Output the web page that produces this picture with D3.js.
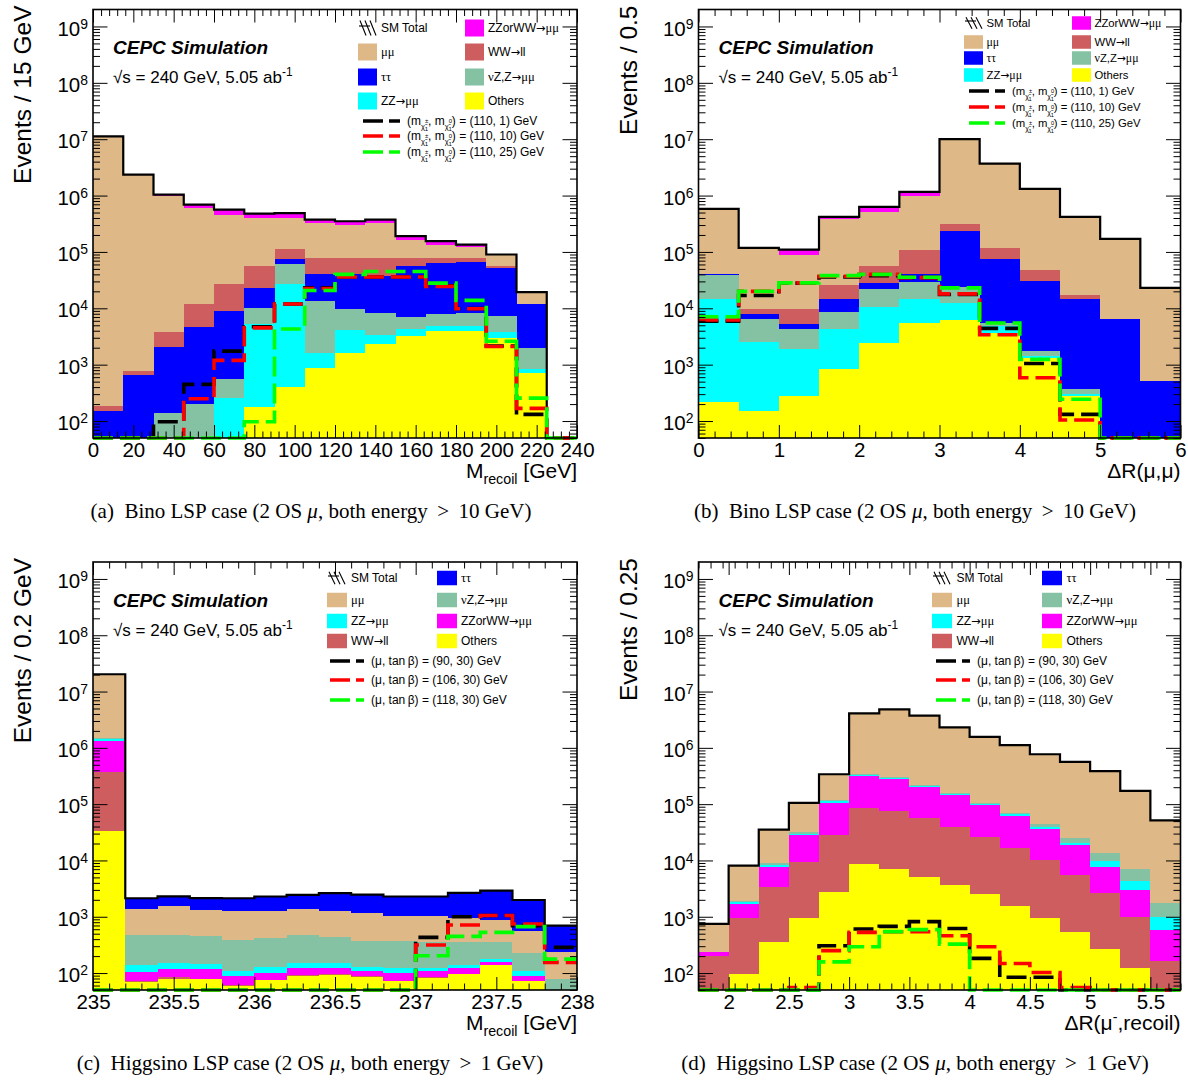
<!DOCTYPE html>
<html>
<head>
<meta charset="utf-8">
<script src="https://cdn.jsdelivr.net/npm/d3@7"></script>
<style>
  html, body { margin: 0; padding: 0; background: #fff; }
  svg { display: block; }
</style>
</head>
<body>
<svg id="fig" width="1188" height="1080"></svg>
<script>
// ---------------- data ----------------
// Panel (a): M_recoil, Bino LSP, 15 GeV bins
const edgesA   = [0, 15, 30, 45, 60, 75, 90, 105, 120, 135, 150, 165, 180, 195, 210, 225, 240];
const othersA  = [2, 2, 5, 5, 5, 177, 401, 883, 1630, 2350, 3200, 3900, 4000, 3000, 700, 0];
const zzA      = [3, 3, 5, 5, 255, 5020, 27100, 750, 2570, 1050, 1100, 900, 800, 800, 148, 0];
const nuzA     = [10, 20, 131, 193, 288, 5000, 32500, 11770, 5700, 4900, 2800, 3000, 3500, 3500, 1150, 0];
const tautauA  = [136, 630, 1940, 4500, 8350, 12800, 16000, 26400, 30100, 28700, 48900, 56200, 58700, 44700, 10000, 0];
const wwA      = [34, 115, 1700, 7000, 18600, 34000, 39000, 38700, 38500, 41500, 22500, 14500, 11500, 5000, 0, 0];
const mumuA    = [11200000, 2350000, 966000, 588000, 432500, 343000, 285000, 248500, 227500, 248500, 87500, 56500, 44500, 33000, 7400, 0];
const zzwwA    = [0, 0, 70000, 90000, 104000, 80000, 90000, 48000, 44000, 48000, 24000, 20000, 12000, 0, 0, 0];
const sig1A    = [0, 0, 97, 447, 1740, 4700, 11900, 23000, 36000, 36000, 36000, 25000, 9900, 2140, 131, 0];
const sig2A    = [0, 0, 0, 249, 1190, 4500, 11900, 22500, 36000, 36000, 36000, 24500, 9800, 2100, 168, 0];
const sig3A    = [0, 0, 0, 0, 0, 97, 4300, 20700, 40000, 45000, 45000, 28000, 13800, 2600, 255, 0];

// Panel (b): DeltaR(mu,mu), Bino LSP, 0.5 bins
const edgesB   = [0, 0.5, 1, 1.5, 2, 2.5, 3, 3.5, 4, 4.5, 5, 5.5, 6];
const othersB  = [220, 151, 278, 824, 2450, 5400, 6300, 3700, 1330, 278, 0, 0];
const zzB      = [14480, 2350, 1590, 3480, 8050, 9300, 6200, 1100, 70, 22, 0, 0];
const nuzB     = [24300, 4000, 2430, 4300, 11100, 14300, 11500, 700, 340, 65, 0, 0];
const tautauB  = [2000, 1300, 1000, 5800, 6700, 12000, 209000, 69500, 29260, 14035, 6500, 512];
const wwB      = [0, 2100, 4600, 11000, 28700, 66000, 77000, 43000, 16000, 2700, 0, 0];
const mumuB    = [539000, 106000, 77100, 360600, 453000, 863000, 9690000, 3580000, 1263000, 403000, 163500, 22488];
const zzwwB    = [0, 2000, 23000, 34000, 120000, 190000, 0, 0, 0, 0, 0, 0];
const sig1B    = [5900, 16900, 28000, 36000, 38000, 35000, 17600, 4400, 1050, 131, 0, 0];
const sig2B    = [6200, 20000, 28300, 37000, 40000, 35000, 18000, 3400, 587, 104, 0, 0];
const sig3B    = [7100, 20000, 28300, 38000, 40000, 35500, 23000, 5500, 1240, 243, 0, 0];

// Panel (c): M_recoil, Higgsino LSP, 0.2 GeV bins
const edgesC   = [235, 235.2, 235.4, 235.6, 235.8, 236, 236.2, 236.4, 236.6, 236.8, 237, 237.2, 237.4, 237.6, 237.8, 238];
const othersC  = [33000, 70, 80, 78, 60, 75, 90, 94, 85, 71, 82, 96, 138, 71, 10];
const wwC      = [332000, 3, 4, 2, 1, 1, 2, 2, 2, 2, 2, 2, 2, 2, 2];
const zzwwC    = [975000, 32, 33, 40, 28, 24, 30, 26, 21, 27, 26, 24, 14, 16, 5];
const zzC      = [100000, 35, 31, 23, 21, 26, 28, 28, 21, 22, 12, 16, 23, 18, 5];
const nuzC     = [30000, 334, 326, 318, 282, 288, 324, 280, 247, 243, 238, 213, 174, 116, 56];
const mumuC    = [18830000, 906, 1056, 879, 858, 866, 906, 850, 774, 685, 690, 601, 538, 343, 155];
const tautauC  = [0, 750, 770, 810, 880, 1010, 1060, 1340, 1320, 1240, 1240, 1700, 2030, 1420, 462];
const sig1C    = [0, 0, 0, 0, 0, 0, 0, 0, 0, 0, 430, 1000, 1050, 695, 286];
const sig2C    = [0, 0, 0, 0, 0, 0, 0, 0, 0, 0, 315, 714, 1050, 743, 155];
const sig3C    = [0, 0, 0, 0, 0, 0, 0, 0, 0, 0, 203, 449, 528, 667, 177];

// Panel (d): DeltaR(mu-, recoil), Higgsino LSP, 0.25 bins
const edgesD   = [1.75, 2, 2.25, 2.5, 2.75, 3, 3.25, 3.5, 3.75, 4, 4.25, 4.5, 4.75, 5, 5.25, 5.5, 5.75];
const othersD  = [0, 96, 351, 952, 2800, 8500, 7100, 5000, 3680, 2550, 1580, 952, 528, 267, 122, 0];
const wwD      = [198, 856, 3000, 8350, 25100, 77500, 68900, 52000, 35620, 23450, 15020, 9050, 5030, 2380, 880, 161];
const zzwwD    = [35, 738, 4450, 18600, 78100, 227000, 201000, 145000, 104700, 69000, 45400, 26700, 13440, 5150, 2040, 429];
const zzD      = [5, 120, 600, 2100, 8000, 14000, 13000, 10000, 7000, 5000, 4000, 3300, 1700, 1800, 1360, 387];
const nuzD     = [2, 130, 550, 2000, 6000, 23000, 16000, 11000, 7000, 6000, 3700, 3800, 4600, 4100, 2700, 783];
const mumuD    = [505, 6160, 26250, 73000, 220000, 3750000, 4524000, 3507000, 2152000, 1464000, 1050000, 726000, 540000, 371000, 165000, 49840];
const tautauD  = [0, 0, 0, 0, 0, 0, 0, 0, 0, 0, 0, 0, 0, 0, 0, 0];
const sig1D    = [0, 0, 0, 0, 306, 606, 676, 818, 620, 182, 84, 84, 0, 0, 0, 0];
const sig2D    = [0, 0, 0, 55, 250, 528, 540, 540, 461, 294, 148, 102, 55, 0, 0, 0];
const sig3D    = [0, 0, 0, 0, 158, 294, 545, 590, 327, 0, 0, 0, 0, 0, 0, 0];

// tick labels
const xTicksA = [0, 20, 40, 60, 80, 100, 120, 140, 160, 180, 200, 220, 240];
const xTicksB = [0, 1, 2, 3, 4, 5, 6];
const xTicksC = [235, 235.5, 236, 236.5, 237, 237.5, 238];
const xTicksD = [2, 2.5, 3, 3.5, 4, 4.5, 5, 5.5];
const yTicks  = [1e2, 1e3, 1e4, 1e5, 1e6, 1e7, 1e8, 1e9];

// signal points
const binoPoints = ["(110, 1)", "(110, 10)", "(110, 25)"];
const higgsinoPoints = ["(90, 30)", "(106, 30)", "(118, 30)"];

// ---------------- styling ----------------
const SANS = '"Liberation Sans", Arial, Helvetica, sans-serif';
const SERIF = '"Liberation Serif", "Times New Roman", serif';
const COLORS = { others: "#FFFF00", zz: "#00FFFF", nuz: "#85C2A3", tautau: "#0000FF",
                 ww: "#CE5D5F", mumu: "#DEB887", zzww: "#FF00FF" };
const LABELS = { others: "Others", zz: "ZZ\u2192\u03bc\u03bc", nuz: "\u03bdZ,Z\u2192\u03bc\u03bc", tautau: "\u03c4\u03c4",
                 ww: "WW\u2192ll", mumu: "\u03bc\u03bc", zzww: "ZZorWW\u2192\u03bc\u03bc" };
const SIG_COLORS = ["#000000", "#FF0000", "#00FF00"];
const YMIN = 50, YMAX = 2e9;

const svg = d3.select("#fig");
svg.append("rect").attr("width", 1188).attr("height", 1080).attr("fill", "#fff");

// text with shifted pieces: [text, shift(px, +down), size(em), dx]
function rich(sel, parts) {
  let cur = 0;
  parts.forEach(([t, shift = 0, size = 1, dx = 0]) => {
    const ts = sel.append("tspan").text(t);
    if (shift !== cur) ts.attr("dy", shift - cur);
    if (size !== 1) ts.attr("font-size", size + "em");
    if (dx) ts.attr("dx", dx);
    cur = shift;
  });
}

// legend label: arrows and Greek letters set in a serif/symbol-like face
function legendText(sel, label) {
  label.split(/(\u2192|[\u03bc\u03c4\u03bd]+)/).filter(s => s.length).forEach(s => {
    const ts = sel.append("tspan").text(s);
    if (s === "\u2192") ts.attr("font-family", '"DejaVu Sans", sans-serif').attr("font-size", "0.95em");
    else if (/^[\u03bc\u03c4\u03bd]+$/.test(s)) ts.attr("font-family", SERIF).attr("font-size", "1.05em");
  });
}

function minorLin(lo, hi, step, majors) {
  const out = [];
  const n = Math.round((hi - lo) / step);
  for (let i = 0; i <= n; i++) {
    const v = Math.round((lo + i * step) * 1000) / 1000;
    if (!majors.some(m => Math.abs(m - v) < 1e-6)) out.push(v);
  }
  return out;
}
const yMinor = [];
for (let e = 1; e <= 9; e++) for (let k = 2; k <= 9; k++) {
  const v = k * Math.pow(10, e);
  if (v >= YMIN && v < YMAX) yMinor.push(v);
}

function drawPanel(p) {
  const g = svg.append("g");
  const nb = p.edges.length - 1;
  const x = d3.scaleLinear().domain([p.edges[0], p.edges[nb]]).range([p.left, p.right]);
  const y = d3.scaleLog().domain([YMIN, YMAX]).range([p.bottom, p.top]);
  const cy = v => y(Math.min(YMAX, Math.max(YMIN, v)));

  // stacked backgrounds
  const rows = d3.range(nb).map(i => {
    const o = { x0: p.edges[i], x1: p.edges[i + 1] };
    p.order.forEach(k => { o[k] = p.series[k][i]; });
    return o;
  });
  const layers = d3.stack().keys(p.order)(rows);
  layers.forEach(layer => {
    g.append("g").attr("fill", COLORS[layer.key]).attr("shape-rendering", "crispEdges")
      .selectAll("rect")
      .data(layer.filter(d => d[1] > YMIN && d[1] > d[0]))
      .join("rect")
      .attr("x", d => x(d.data.x0))
      .attr("width", d => x(d.data.x1) - x(d.data.x0))
      .attr("y", d => cy(d[1]))
      .attr("height", d => cy(d[0]) - cy(d[1]));
  });

  // histogram outlines
  const step = d3.line().x(d => x(d[0])).y(d => cy(d[1])).curve(d3.curveStepAfter);
  const pts = vals => p.edges.map((e, i) => [e, vals[Math.min(i, nb - 1)]]);
  const totals = rows.map(r => d3.sum(p.order, k => r[k]));
  g.append("path").attr("d", step(pts(totals)))
    .attr("fill", "none").attr("stroke", "#000").attr("stroke-width", 2.2);
  p.signals.forEach((s, j) => {
    g.append("path").attr("d", step(pts(s)))
      .attr("fill", "none").attr("stroke", SIG_COLORS[j]).attr("stroke-width", 3.6)
      .attr("stroke-dasharray", "20,7");
  });

  // axes (ticks drawn inward on all four sides)
  const axis = (ax, tx, ty) => g.append("g").attr("transform", `translate(${tx},${ty})`)
    .call(ax)
    .call(s => s.select(".domain").remove())
    .call(s => s.selectAll("line").attr("stroke", "#000").attr("stroke-width", 1))
    .attr("font-family", SANS);
  const xMinor = minorLin(p.edges[0], p.edges[nb], p.minorStep, p.xTicks);

  const xb = axis(d3.axisBottom(x).tickValues(p.xTicks).tickSizeInner(-13).tickSizeOuter(0)
    .tickPadding(4).tickFormat(d => String(d)), 0, p.bottom);
  xb.attr("font-size", 20.5);
  xb.selectAll("text").attr("dy", "0.71em");
  axis(d3.axisBottom(x).tickValues(xMinor).tickSizeInner(-6.5).tickSizeOuter(0).tickFormat(""), 0, p.bottom);
  axis(d3.axisTop(x).tickValues(p.xTicks).tickSizeInner(-13).tickSizeOuter(0).tickFormat(""), 0, p.top);
  axis(d3.axisTop(x).tickValues(xMinor).tickSizeInner(-6.5).tickSizeOuter(0).tickFormat(""), 0, p.top);

  const yl = axis(d3.axisLeft(y).tickValues(yTicks).tickSizeInner(-14.5).tickSizeOuter(0)
    .tickPadding(5).tickFormat(() => ""), p.left, 0);
  yl.attr("font-size", 20.5);
  yl.selectAll(".tick text").each(function (d) {
    const t = d3.select(this).attr("dy", "0.42em");
    t.append("tspan").text("10");
    t.append("tspan").attr("dy", "-0.5em").attr("font-size", "0.68em").text(Math.round(Math.log10(d)));
  });
  axis(d3.axisLeft(y).tickValues(yMinor).tickSizeInner(-7).tickSizeOuter(0).tickFormat(""), p.left, 0);
  axis(d3.axisRight(y).tickValues(yTicks).tickSizeInner(-14.5).tickSizeOuter(0).tickFormat(""), p.right, 0);
  axis(d3.axisRight(y).tickValues(yMinor).tickSizeInner(-7).tickSizeOuter(0).tickFormat(""), p.right, 0);

  g.append("rect").attr("x", p.left).attr("y", p.top)
    .attr("width", p.right - p.left).attr("height", p.bottom - p.top)
    .attr("fill", "none").attr("stroke", "#000").attr("stroke-width", 1.6);

  // axis titles
  g.append("text").attr("font-family", SANS).attr("font-size", 24.5)
    .attr("text-anchor", "end")
    .attr("transform", `translate(${p.left - 62},${p.top - 4}) rotate(-90)`)
    .text(p.yTitle);
  const xt = g.append("text").attr("font-family", SANS).attr("font-size", 21)
    .attr("text-anchor", "end").attr("x", p.right).attr("y", p.bottom + 40);
  rich(xt, p.xTitle);

  // labels inside the frame
  g.append("text").attr("font-family", SANS).attr("font-size", 19)
    .attr("font-weight", "bold").attr("font-style", "italic")
    .attr("x", p.left + 20).attr("y", p.top + 44.5).text("CEPC Simulation");
  const ecm = g.append("text").attr("font-family", SANS).attr("font-size", 17)
    .attr("x", p.left + 20).attr("y", p.top + 73.5);
  rich(ecm, [["\u221as = 240 GeV, 5.05 ab"], ["-1", -7, 0.7], ["", 0]]);

  // caption
  const cap = g.append("text").attr("font-family", SERIF).attr("font-size", 21)
    .attr("text-anchor", "middle").attr("x", p.capX).attr("y", p.bottom + 80);
  cap.append("tspan").text(p.capTag + "\u00a0\u00a0" + p.capLead);
  cap.append("tspan").attr("font-style", "italic").text("\u03bc");
  cap.append("tspan").text(p.capTail);

  // legend
  const L = p.legend;
  const lg = g.append("g").attr("font-family", SANS).attr("font-size", L.fs);
  p.legendEntries.forEach((k, i) => {
    const row = Math.floor(i / 2), col = i % 2;
    const sx = col ? L.x1 : L.x0, ry = L.rows[row];
    if (k === "total") {
      const hb = lg.append("g").attr("stroke", "#000").attr("stroke-width", 1.1);
      for (let h = 0; h < 3; h++) {
        hb.append("line").attr("x1", sx + 2 + h * 5).attr("y1", ry - L.sh / 2 + 1)
          .attr("x2", sx + 8 + h * 5).attr("y2", ry + L.sh / 2 - 1);
      }
      hb.append("line").attr("x1", sx + 1).attr("y1", ry - 2).attr("x2", sx + 12).attr("y2", ry - 2);
      lg.append("text").attr("x", sx + L.dx).attr("y", ry + L.fs * 0.36).text("SM Total");
    } else {
      lg.append("rect").attr("x", sx).attr("y", ry - L.sh / 2).attr("width", L.sw).attr("height", L.sh)
        .attr("fill", COLORS[k]);
      legendText(lg.append("text").attr("x", sx + L.dx).attr("y", ry + L.fs * 0.36), LABELS[k]);
    }
  });
  p.sigLabels.forEach((parts, j) => {
    const ry = L.srows[j];
    lg.append("line").attr("x1", L.lx0).attr("x2", L.lx1).attr("y1", ry).attr("y2", ry)
      .attr("stroke", SIG_COLORS[j]).attr("stroke-width", 3.6).attr("stroke-dasharray", "20,6");
    const t = lg.append("text").attr("x", L.tx).attr("y", ry + L.fs * 0.36);
    rich(t, parts);
  });
}

const chi = "\u03c7\u0303";
const binoLabel = pt => [["(m"], [chi, 4, 0.62], ["\u00b1", -2, 0.5], ["1", 6, 0.5, -3.5],
  [", m", 0], [chi, 4, 0.62], ["0", -2, 0.5], ["1", 6, 0.5, -3.5], [") = " + pt + " GeV", 0]];
const higgsinoLabel = pt => [["(\u03bc, tan\u2009\u03b2) = " + pt + " GeV"]];

const binoOrder = ["others", "zz", "nuz", "tautau", "ww", "mumu", "zzww"];
const higgsinoOrder = ["others", "ww", "zzww", "zz", "nuz", "mumu", "tautau"];
const binoEntries = ["total", "zzww", "mumu", "ww", "tautau", "nuz", "zz", "others"];
const higgsinoEntries = ["total", "tautau", "mumu", "nuz", "zz", "zzww", "ww", "others"];

drawPanel({
  left: 93, right: 577, top: 9.5, bottom: 438,
  edges: edgesA, minorStep: 4, xTicks: xTicksA,
  order: binoOrder,
  series: { others: othersA, zz: zzA, nuz: nuzA, tautau: tautauA, ww: wwA, mumu: mumuA, zzww: zzwwA },
  signals: [sig1A, sig2A, sig3A],
  yTitle: "Events / 15 GeV",
  xTitle: [["M"], ["recoil", 6, 0.68], [" [GeV]", 0]],
  capX: 311, capTag: "(a)", capLead: "Bino LSP case (2 OS ", capTail: ", both energy \u2009>\u2009 10 GeV)",
  legend: { x0: 358, x1: 465, rows: [28, 52, 77, 101], sw: 19, sh: 17, dx: 23, fs: 12,
            srows: [121, 136, 152], lx0: 363, lx1: 400, tx: 407 },
  legendEntries: binoEntries,
  sigLabels: binoPoints.map(binoLabel)
});

drawPanel({
  left: 698.5, right: 1180.5, top: 9.5, bottom: 438,
  edges: edgesB, minorStep: 0.2, xTicks: xTicksB,
  order: binoOrder,
  series: { others: othersB, zz: zzB, nuz: nuzB, tautau: tautauB, ww: wwB, mumu: mumuB, zzww: zzwwB },
  signals: [sig1B, sig2B, sig3B],
  yTitle: "Events / 0.5",
  xTitle: [["\u0394R(\u03bc,\u03bc)"]],
  capX: 915, capTag: "(b)", capLead: "Bino LSP case (2 OS ", capTail: ", both energy \u2009>\u2009 10 GeV)",
  legend: { x0: 964, x1: 1072, rows: [23, 42, 58, 75], sw: 19, sh: 13.5, dx: 22.5, fs: 11.3,
            srows: [91, 107, 123], lx0: 969, lx1: 1005, tx: 1012 },
  legendEntries: binoEntries,
  sigLabels: binoPoints.map(binoLabel)
});

drawPanel({
  left: 93, right: 577, top: 562, bottom: 990,
  edges: edgesC, minorStep: 0.1, xTicks: xTicksC,
  order: higgsinoOrder,
  series: { others: othersC, zz: zzC, nuz: nuzC, tautau: tautauC, ww: wwC, mumu: mumuC, zzww: zzwwC },
  signals: [sig1C, sig2C, sig3C],
  yTitle: "Events / 0.2 GeV",
  xTitle: [["M"], ["recoil", 6, 0.68], [" [GeV]", 0]],
  capX: 310, capTag: "(c)", capLead: "Higgsino LSP case (2 OS ", capTail: ", both energy \u2009>\u2009 1 GeV)",
  legend: { x0: 327, x1: 437, rows: [578, 600, 621, 641], sw: 20, sh: 14.5, dx: 24, fs: 12,
            srows: [661, 680, 700], lx0: 330, lx1: 364, tx: 371 },
  legendEntries: higgsinoEntries,
  sigLabels: higgsinoPoints.map(higgsinoLabel)
});

drawPanel({
  left: 698.5, right: 1180.5, top: 562, bottom: 990,
  edges: edgesD, minorStep: 0.1, xTicks: xTicksD,
  order: higgsinoOrder,
  series: { others: othersD, zz: zzD, nuz: nuzD, tautau: tautauD, ww: wwD, mumu: mumuD, zzww: zzwwD },
  signals: [sig1D, sig2D, sig3D],
  yTitle: "Events / 0.25",
  xTitle: [["\u0394R(\u03bc"], ["-", -8, 0.68], [",recoil)", 0]],
  capX: 915, capTag: "(d)", capLead: "Higgsino LSP case (2 OS ", capTail: ", both energy \u2009>\u2009 1 GeV)",
  legend: { x0: 932, x1: 1042, rows: [578, 600, 621, 641], sw: 20, sh: 14.5, dx: 24.5, fs: 12,
            srows: [661, 680, 700], lx0: 936, lx1: 970, tx: 977 },
  legendEntries: higgsinoEntries,
  sigLabels: higgsinoPoints.map(higgsinoLabel)
});
</script>
</body>
</html>
